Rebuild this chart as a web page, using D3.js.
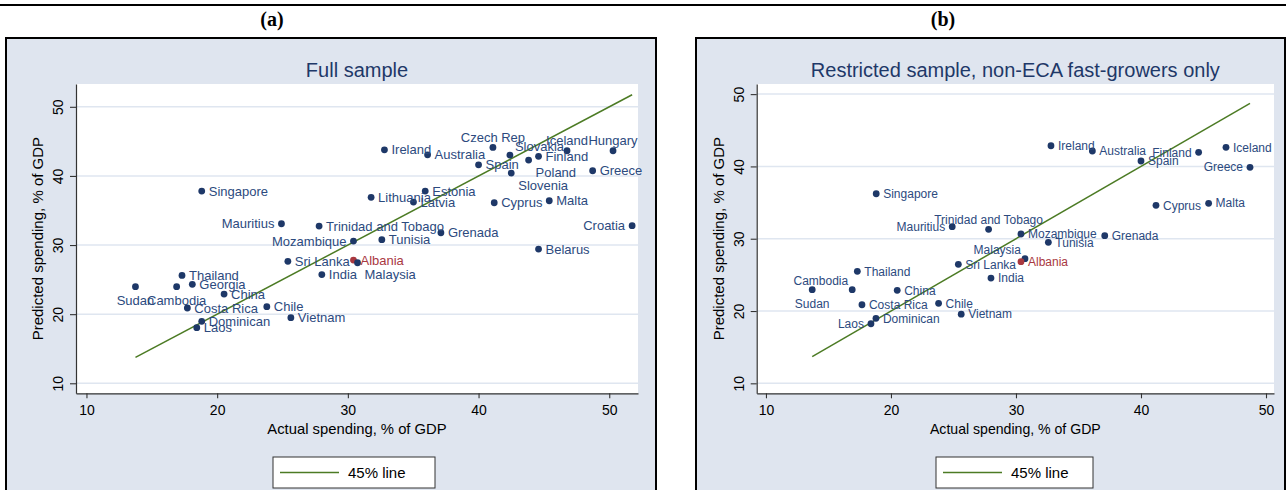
<!DOCTYPE html>
<html>
<head>
<meta charset="utf-8">
<script src="https://cdn.jsdelivr.net/npm/d3@7"></script>
<style>
  body { margin: 0; background: #ffffff; }
  svg { display: block; }
</style>
</head>
<body>
<svg id="chart" width="1286" height="490"></svg>
<script>
// ---- Panel (a): full sample ----
const fullCountries = ["Singapore","Mauritius","Trinidad and Tobago","Mozambique","Sri Lanka","Albania","Malaysia","India",
  "Thailand","Sudan","Cambodia","Georgia","China","Costa Rica","Chile","Dominican","Laos","Vietnam",
  "Ireland","Australia","Czech Rep","Slovakia","Spain","Poland","Finland","Slovenia","Iceland","Hungary","Greece",
  "Estonia","Lithuania","Latvia","Cyprus","Malta","Croatia","Grenada","Tunisia","Belarus"];
const fullActual = [18.82,24.92,27.80,30.43,25.41,30.43,30.74,28.01,
  17.31,13.75,16.90,18.10,20.53,17.72,23.80,18.82,18.44,25.64,
  32.80,36.10,41.10,42.40,40.00,43.83,44.59,42.50,46.77,50.29,48.73,
  35.92,31.78,35.02,41.20,45.41,51.75,37.12,32.60,44.59];
const fullPredicted = [37.81,33.08,32.75,30.58,27.64,27.83,27.44,25.73,
  25.60,23.97,23.97,24.31,22.91,20.89,21.08,18.97,18.04,19.49,
  43.78,43.06,44.13,43.02,41.61,42.29,42.83,40.41,43.64,43.64,40.75,
  37.81,36.90,36.22,36.12,36.41,32.80,31.78,30.77,29.42];
// label placement, as clock positions around each marker
const fullLabelClock = [3,9,3,9,3,3,4,3, 3,6,6,3,3,3,3,3,3,3, 3,3,12,1,3,4,3,4,12,12,3, 3,3,3,3,3,9,3,3,3];

// ---- Panel (b): restricted sample ----
const restCountries = ["Singapore","Mauritius","Trinidad and Tobago","Mozambique","Malaysia","Albania","Sri Lanka","India",
  "Tunisia","Grenada","Ireland","Australia","Spain","Finland","Iceland","Greece","Cyprus","Malta",
  "Thailand","Cambodia","Sudan","China","Costa Rica","Chile","Dominican","Laos","Vietnam"];
const restActual = [18.82,24.90,27.81,30.40,30.72,30.40,25.39,28.00,
  32.59,37.10,32.80,36.11,40.00,44.61,46.80,48.72,41.20,45.41,
  17.31,16.90,13.70,20.50,17.68,23.81,18.80,18.40,25.62];
const restPredicted = [36.22,31.66,31.30,30.65,27.24,26.82,26.46,24.56,
  29.50,30.42,42.86,42.13,40.75,41.95,42.64,39.88,34.62,34.90,
  25.49,22.95,22.95,22.86,20.87,21.06,18.99,18.24,19.56];
const restLabelClock = [3,9,12,3,11,3,3,3, 3,3,3,3,3,9,3,9,3,3, 3,11,6,3,3,3,3,9,3];

const highlighted = "Albania";
const yTicks = [10, 20, 30, 40, 50];
const xTicks = [10, 20, 30, 40, 50];
const panelLetters = ["(a)", "(b)"];
const panelTitles = ["Full sample", "Restricted sample, non-ECA fast-growers only"];
const xTitle = "Actual spending, % of GDP";
const yTitle = "Predicted spending, % of GDP";
const legendText = "45% line";

// ---- styling ----
const BG = "#dfe5ef";
const GRID = "#dfe6f0";
const NAVY = "#1e3868";
const LABEL = "#2c4a7e";
const RED = "#a9383f";
const GREEN = "#4c7b24";
const FONT = "Arial, 'Liberation Sans', Helvetica, sans-serif";

const svg = d3.select("#chart");
svg.append("rect").attr("width", 1286).attr("height", 490).attr("fill", "#ffffff");
svg.append("rect").attr("x", 0).attr("y", 4).attr("width", 1286).attr("height", 2).attr("fill", "#000");

const panels = [
  { frame: [6, 656], letterX: 272, plot: { left: 76, right: 638, top: 84, bottom: 393.3 },
    xDom: [9.2, 52.2], yDom: [8.55, 53.3],
    sizes: { title: 20, label: 13, xTitle: 14.8, yTitle: 15, tick: 14, legend: 15 },
    legend: { x: 273, w: 162 },
    countries: fullCountries, actual: fullActual, predicted: fullPredicted, clock: fullLabelClock },
  { frame: [696, 1285], letterX: 943, plot: { left: 756.7, right: 1274, top: 84, bottom: 393.3 },
    xDom: [9.26, 50.64], yDom: [8.62, 51.4],
    sizes: { title: 20, label: 12, xTitle: 14.1, yTitle: 15, tick: 14, legend: 15 },
    legend: { x: 936, w: 157 },
    countries: restCountries, actual: restActual, predicted: restPredicted, clock: restLabelClock }
];

function clockOffset(c) {
  switch (c) {
    case 12: return { dx: 0, dy: -10, anchor: "middle" };
    case 1:  return { dx: 5, dy: -9, anchor: "start" };
    case 3:  return { dx: 7, dy: 0, anchor: "start" };
    case 4:  return { dx: 7, dy: 12, anchor: "start" };
    case 6:  return { dx: 0, dy: 14, anchor: "middle" };
    case 9:  return { dx: -7, dy: 0, anchor: "end" };
    case 11: return { dx: -4, dy: -9, anchor: "end" };
    default: return { dx: 7, dy: 0, anchor: "start" };
  }
}

panels.forEach((p, i) => {
  const g = svg.append("g");
  const s = p.sizes;
  // outer frame
  g.append("rect").attr("x", p.frame[0]).attr("y", 38)
    .attr("width", p.frame[1] - p.frame[0]).attr("height", 470)
    .attr("fill", BG).attr("stroke", "#000").attr("stroke-width", 2);

  g.append("text").attr("x", p.letterX).attr("y", 26)
    .attr("text-anchor", "middle").attr("font-family", "'Liberation Serif', 'Times New Roman', serif")
    .attr("font-weight", "bold").attr("font-size", 20).text(panelLetters[i]);

  const pl = p.plot;
  const cx = (pl.left + pl.right) / 2;
  g.append("text").attr("x", cx).attr("y", 77).attr("text-anchor", "middle")
    .attr("font-family", FONT).attr("font-size", s.title).attr("fill", NAVY).text(panelTitles[i]);

  // plot region
  g.append("rect").attr("x", pl.left).attr("y", pl.top)
    .attr("width", pl.right - pl.left).attr("height", pl.bottom - pl.top).attr("fill", "#ffffff");

  const x = d3.scaleLinear().domain(p.xDom).range([pl.left, pl.right]);
  const y = d3.scaleLinear().domain(p.yDom).range([pl.bottom, pl.top]);

  // grid
  g.append("g").selectAll("line").data(yTicks).join("line")
    .attr("x1", pl.left).attr("x2", pl.right)
    .attr("y1", d => y(d)).attr("y2", d => y(d))
    .attr("stroke", GRID).attr("stroke-width", 1.5);

  // axes
  const xAxis = g.append("g").attr("transform", `translate(0,${pl.bottom})`)
    .call(d3.axisBottom(x).tickValues(xTicks).tickSize(5).tickPadding(7).tickSizeOuter(0));
  const yAxis = g.append("g").attr("transform", `translate(${pl.left},0)`)
    .call(d3.axisLeft(y).tickValues(yTicks).tickSize(6).tickSizeOuter(0));
  [xAxis, yAxis].forEach(a => {
    a.select(".domain").attr("stroke", "#333").attr("stroke-width", 1.2);
    a.selectAll(".tick line").attr("stroke", "#333").attr("stroke-width", 1.1);
    a.selectAll("text").attr("font-family", FONT).attr("font-size", s.tick).attr("fill", "#000");
  });
  yAxis.selectAll(".tick text")
    .attr("x", 0).attr("dy", 0).attr("text-anchor", "middle")
    .attr("transform", "translate(-13,0) rotate(-90)");

  // axis titles
  g.append("text").attr("x", cx).attr("y", 434).attr("text-anchor", "middle")
    .attr("font-family", FONT).attr("font-size", s.xTitle).attr("fill", "#000").text(xTitle);
  g.append("text").attr("transform", `translate(${pl.left - 33},${(pl.top + pl.bottom) / 2}) rotate(-90)`)
    .attr("text-anchor", "middle").attr("font-family", FONT).attr("font-size", s.yTitle).attr("fill", "#000").text(yTitle);

  // 45-degree line between the smallest and largest actual values
  const ext = d3.extent(p.actual);
  g.append("line").attr("x1", x(ext[0])).attr("y1", y(ext[0]))
    .attr("x2", x(ext[1])).attr("y2", y(ext[1]))
    .attr("stroke", GREEN).attr("stroke-width", 1.5);

  // points and labels
  const rows = p.countries.map((c, k) => ({ c, a: p.actual[k], v: p.predicted[k], clock: p.clock[k] }));
  const pts = g.append("g");
  pts.selectAll("circle").data(rows).join("circle")
    .attr("cx", d => x(d.a)).attr("cy", d => y(d.v)).attr("r", 3.4)
    .attr("fill", d => d.c === highlighted ? RED : NAVY);
  pts.selectAll("text").data(rows).join("text")
    .attr("x", d => x(d.a) + clockOffset(d.clock).dx)
    .attr("y", d => y(d.v) + clockOffset(d.clock).dy)
    .attr("dy", "0.35em")
    .attr("text-anchor", d => clockOffset(d.clock).anchor)
    .attr("font-family", FONT).attr("font-size", s.label)
    .attr("fill", d => d.c === highlighted ? RED : LABEL)
    .text(d => d.c);

  // legend
  const lw = p.legend.w, lh = 31;
  const lx = p.legend.x, ly = 457;
  g.append("rect").attr("x", lx).attr("y", ly).attr("width", lw).attr("height", lh)
    .attr("fill", "#fff").attr("stroke", "#333").attr("stroke-width", 1);
  g.append("line").attr("x1", lx + 7).attr("x2", lx + 66).attr("y1", ly + lh / 2).attr("y2", ly + lh / 2)
    .attr("stroke", GREEN).attr("stroke-width", 1.5);
  g.append("text").attr("x", lx + 75).attr("y", ly + lh / 2).attr("dy", "0.35em")
    .attr("font-family", FONT).attr("font-size", s.legend).attr("fill", "#000").text(legendText);
});
</script>
</body>
</html>
